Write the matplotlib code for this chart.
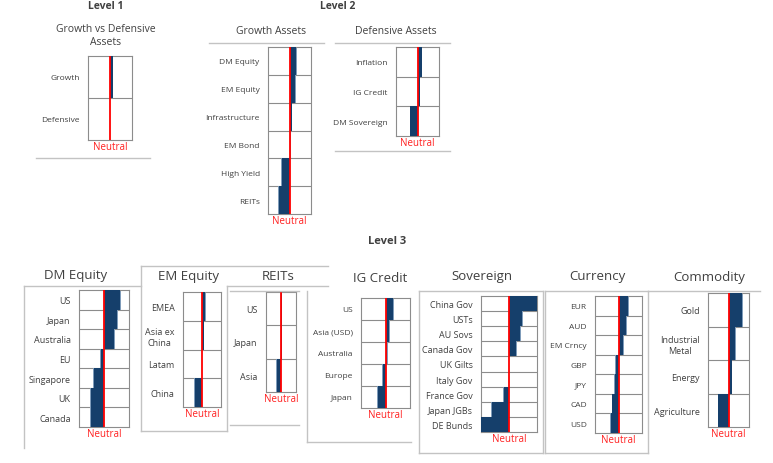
import numpy as np
from matplotlib import pyplot as plt
from matplotlib.lines import Line2D

plt.rcParams['font.family'] = ['Open Sans', 'DejaVu Sans']

W, H = 773, 464

# scores, as a fraction of the half-width of each box (neutral = 0)
level1_labels = ['Growth', 'Defensive']
level1_values = [0.12, 0.0]

growth_labels = ['DM Equity', 'EM Equity', 'Infrastructure', 'EM Bond', 'High Yield', 'REITs']
growth_values = [0.31, 0.25, 0.10, 0.02, -0.34, -0.48]

defensive_labels = ['Inflation', 'IG Credit', 'DM Sovereign']
defensive_values = [0.19, 0.10, -0.33]

dm_equity_labels = ['US', 'Japan', 'Australia', 'EU', 'Singapore', 'UK', 'Canada']
dm_equity_values = [0.65, 0.52, 0.39, -0.13, -0.39, -0.52, -0.52]

em_equity_labels = ['EMEA', 'Asia ex\nChina', 'Latam', 'China']
em_equity_values = [0.16, 0.09, 0.0, -0.36]

reits_labels = ['US', 'Japan', 'Asia']
reits_values = [0.05, 0.05, -0.28]

ig_credit_labels = ['US', 'Asia (USD)', 'Australia', 'Europe', 'Japan']
ig_credit_values = [0.30, 0.13, 0.07, -0.12, -0.32]

sovereign_labels = ['China Gov', 'USTs', 'AU Sovs', 'Canada Gov', 'UK Gilts',
                    'Italy Gov', 'France Gov', 'Japan JGBs', 'DE Bunds']
sovereign_values = [1.0, 0.46, 0.41, 0.25, 0.0, 0.0, -0.19, -0.61, -1.0]

currency_labels = ['EUR', 'AUD', 'EM Crncy', 'GBP', 'JPY', 'CAD', 'USD']
currency_values = [0.40, 0.34, 0.21, -0.11, -0.16, -0.26, -0.31]

commodity_labels = ['Gold', 'Industrial\nMetal', 'Energy', 'Agriculture']
commodity_values = [0.65, 0.33, 0.15, -0.50]

bar_color = '#153f6b'
edge_color = '#7f9cba'
box_color = '#8c8c8c'
frame_color = '#c3c3c3'
text_color = '#404040'


def fig_line(fig, x0, y0, x1, y1, color=frame_color, lw=1.0):
    fig.add_artist(Line2D([x0 / W, x1 / W], [1 - y0 / H, 1 - y1 / H],
                          transform=fig.transFigure, color=color, linewidth=lw))


def fig_text(fig, x, y, s, va='center', **kw):
    fig.text(x / W, 1 - y / H, s, ha='center', va=va, color=text_color, **kw)


def panel(fig, labels, values, x0, y0, x1, y1, label_size=6):
    ax = fig.add_axes([x0 / W, 1 - y1 / H, (x1 - x0) / W, (y1 - y0) / H])
    n = len(labels)
    pos = np.arange(n)
    # light shadow behind each bar, then the bar itself
    shadow = [v + np.sign(v) * 0.035 if v != 0 else 0 for v in values]
    ax.barh(pos, shadow, height=1.0, color=edge_color, zorder=2)
    ax.barh(pos, values, height=1.0, color=bar_color, zorder=3)
    for k in range(1, n):
        ax.axhline(k - 0.5, color=box_color, linewidth=0.8, zorder=1)
    ax.axvline(0, color='#ff0000', linewidth=1.3, zorder=4)
    ax.set_xlim(-1, 1)
    ax.set_ylim(n - 0.5, -0.5)
    ax.set_yticks(pos)
    ax.set_yticklabels(labels, fontsize=label_size, color=text_color, multialignment='center')
    ax.tick_params(axis='y', length=0, pad=6)
    ax.set_xticks([])
    ax.set_xlabel('Neutral', color='#ff2020', fontsize=7, labelpad=0.5)
    for sp in ax.spines.values():
        sp.set_color(box_color)
        sp.set_linewidth(0.8)
    return ax


fig = plt.figure(figsize=(W / 100, H / 100), dpi=100)

# Level 1
fig_text(fig, 106, 9, 'Level 1', va='baseline', fontsize=7.5, fontweight='bold')
fig_text(fig, 106, 36, 'Growth vs Defensive\nAssets', fontsize=7.5, linespacing=1.35)
panel(fig, level1_labels, level1_values, 88, 57, 132, 141)
fig_line(fig, 36, 159, 150, 159)

# Level 2
fig_text(fig, 338, 9, 'Level 2', va='baseline', fontsize=7.5, fontweight='bold')
fig_text(fig, 271, 32, 'Growth Assets', fontsize=7.5)
fig_line(fig, 209, 44, 324, 44)
panel(fig, growth_labels, growth_values, 268, 48, 311, 215)

fig_text(fig, 396, 32, 'Defensive Assets', fontsize=7.5)
fig_line(fig, 335, 44, 450, 44)
fig_line(fig, 335, 152, 450, 152)
panel(fig, defensive_labels, defensive_values, 396, 48, 439, 137)

# Level 3
fig_text(fig, 387, 242, 'Level 3', fontsize=8, fontweight='bold')

fig_text(fig, 76, 276, 'DM Equity', fontsize=9.5)
fig_line(fig, 24, 287, 141, 287)
fig_line(fig, 24, 287, 24, 449)
panel(fig, dm_equity_labels, dm_equity_values, 79, 291, 129, 428, label_size=6.5)

fig_text(fig, 189, 277, 'EM Equity', fontsize=9.5)
fig_line(fig, 141, 267, 328, 267)
fig_line(fig, 141, 267, 141, 432)
fig_line(fig, 141, 432, 227, 432)
fig_line(fig, 227, 287, 227, 432)
panel(fig, em_equity_labels, em_equity_values, 183, 293, 221, 408, label_size=6.5)

fig_text(fig, 278, 277, 'REITs', fontsize=9.5)
fig_line(fig, 227, 287, 328, 287)
fig_line(fig, 230, 292, 299, 292)
fig_line(fig, 230, 426, 299, 426)
panel(fig, reits_labels, reits_values, 266, 293, 296, 393, label_size=6.5)

fig_text(fig, 380, 278, 'IG Credit', fontsize=9.5)
fig_line(fig, 307, 292, 307, 443)
fig_line(fig, 307, 443, 411, 443)
panel(fig, ig_credit_labels, ig_credit_values, 361, 299, 410, 409)

fig_text(fig, 482, 277, 'Sovereign', fontsize=9.5)
fig_line(fig, 419, 292, 543, 292)
fig_line(fig, 419, 292, 419, 454)
fig_line(fig, 419, 454, 543, 454)
fig_line(fig, 543, 292, 543, 454)
panel(fig, sovereign_labels, sovereign_values, 481, 297, 537, 433, label_size=6.5)

fig_text(fig, 597, 277, 'Currency', fontsize=9.5)
fig_line(fig, 545, 292, 648, 292)
fig_line(fig, 545, 292, 545, 454)
fig_line(fig, 545, 454, 648, 454)
fig_line(fig, 648, 292, 648, 454)
panel(fig, currency_labels, currency_values, 595, 297, 642, 434)

fig_text(fig, 709, 278, 'Commodity', fontsize=9.5)
fig_line(fig, 648, 292, 760, 292)
panel(fig, commodity_labels, commodity_values, 708, 294, 749, 428, label_size=6.5)

plt.savefig('out.png', dpi=100)
